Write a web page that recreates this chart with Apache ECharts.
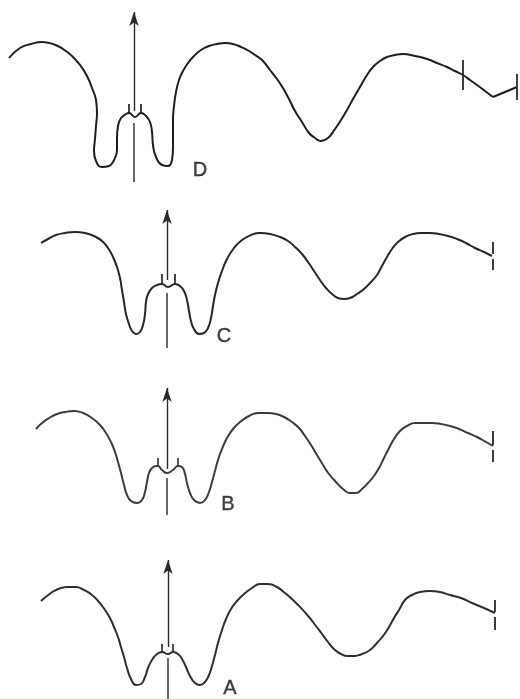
<!DOCTYPE html>
<html>
<head>
<meta charset="utf-8">
<script src="https://cdn.jsdelivr.net/npm/echarts@6/dist/echarts.min.js"></script>
<style>html,body{margin:0;padding:0;background:#fff}#c{width:520px;height:699px}</style>
</head>
<body>
<div id="c"></div>
<script>
// Traces, in picture units (x: 0..520, y: 0..699 downward)
const curveD = [[9,58],[20,48],[31,44],[42,42],[53,44],[63,49],[72,56],[80,65],[87,76],[92,88],[96,100],[97,113],[96,126],[95,139],[94,151],[96,161],[102,167],[109,166],[114,160],[117,150],[117,138],[118,126],[121,118],[126,114],[129,113],[135,117],[141,113],[146,116],[150,122],[152,132],[153,145],[156,157],[162,165],[168,166],[172,160],[173,148],[173,134],[173,120],[174,106],[176,92],[179,80],[183,71],[188,63],[194,56],[201,50],[209,46],[217,44],[225,43],[233,44],[241,47],[249,51],[255,55],[262,60],[270,70],[277,79],[283,88],[289,99],[295,111],[302,122],[309,133],[315,138],[321,141],[328,138],[335,129],[341,120],[347,110],[353,99],[360,87],[367,75],[373,67],[380,61],[387,57],[395,55],[403,54],[415,56],[427,59],[437,63],[447,67],[455,71],[463,75],[470,80],[477,85],[485,91],[493,97]];
const tailD = [[493,97],[517,87]];
const curveC = [[41,243],[48,239],[56,235],[65,233],[75,232],[85,233],[94,236],[102,241],[108,248],[113,257],[117,267],[120,278],[122,290],[124,302],[126,314],[129,324],[132,331],[136,334],[140,332],[143,325],[145,314],[146,302],[148,294],[152,288],[157,285],[162,284],[168,287],[175,284],[180,286],[184,291],[187,300],[189,311],[191,321],[194,329],[199,334],[204,333],[208,328],[211,318],[213,306],[215,295],[218,283],[222,271],[227,259],[234,248],[242,240],[251,235],[260,233],[270,234],[280,237],[288,241],[295,247],[302,254],[308,262],[314,271],[320,280],[326,288],[332,294],[338,298],[344,299],[350,298],[357,294],[364,289],[371,282],[377,275],[382,266],[387,257],[392,249],[398,242],[405,237],[413,234],[421,233],[430,233],[439,234],[448,236],[457,239],[466,243],[475,248],[484,252],[492,256]];
const curveB = [[36,429],[42,423],[49,418],[57,414],[65,412],[74,411],[83,413],[92,418],[100,425],[106,433],[111,442],[115,452],[118,462],[121,473],[124,485],[127,495],[131,501],[137,503],[142,500],[145,492],[147,482],[149,473],[152,468],[156,466],[158,466],[162,470],[167,473],[173,470],[178,466],[182,467],[185,474],[187,483],[190,493],[194,500],[200,503],[205,500],[209,492],[212,482],[215,471],[218,460],[222,449],[227,438],[233,429],[240,422],[249,416],[258,413],[267,413],[276,414],[284,417],[292,422],[299,428],[305,436],[311,445],[317,455],[323,465],[329,474],[336,482],[343,489],[350,493],[356,493],[362,489],[368,483],[374,476],[379,468],[384,458],[389,448],[394,439],[400,431],[407,426],[415,423],[423,423],[432,423],[441,424],[450,426],[459,429],[468,433],[477,437],[486,442],[493,446]];
const curveA = [[41,601],[47,596],[54,591],[61,588],[68,587],[76,587],[84,590],[92,595],[99,602],[105,610],[110,618],[114,627],[118,637],[121,647],[124,657],[127,668],[131,679],[136,685],[141,684],[145,677],[148,668],[152,660],[157,654],[162,652],[168,654],[173,652],[178,654],[182,659],[186,667],[190,676],[195,683],[200,685],[205,682],[209,675],[212,666],[215,655],[218,643],[222,630],[226,619],[231,609],[237,601],[244,594],[252,588],[260,584],[268,584],[277,587],[285,593],[293,600],[301,608],[309,617],[316,626],[322,634],[328,642],[334,649],[341,654],[348,656],[355,656],[362,654],[370,650],[377,643],[383,636],[389,627],[394,618],[399,610],[405,600],[412,595],[420,592],[430,591],[440,592],[450,595],[461,598],[472,603],[484,608],[495,613]];
// spikes: [x, baseY, tipY]
const spikes = [[129,113,104],[141,113,104],[162,284,274],[175,284,274],[158,466,458],[178,466,458],[162,652,644],[173,652,644]];
// end bars: [x, y1, y2]
const bars = [[463,60,90],[517,74,100],[493,242,254],[493,259,270],[493,431,445],[493,450,462],[495,600,612],[495,617,630]];
// arrows: [x, tipY, upperEndY, lowerStartY, lowerEndY]
const arrows = [[134,12,111,123,182],[167,210,280,293,348],[167,388,469,478,515],[168,560,647,658,699]];
// labels: [text, x, y]
const labels = [['D',200,170],['C',224,336],['B',228,504],['A',230,688]];

const curveColors = ['#1e1e1e','#262626','#3c3c3c','#2e2e2e'];
const chart = echarts.init(document.getElementById('c'), null, {renderer:'canvas'});
const series = [];
[curveD, curveC, curveB, curveA].forEach((d,i)=>{
  series.push({type:'line', data:d, smooth:0.5, symbol:'none', lineStyle:{color:curveColors[i], width:2}, silent:true});
});
series.push({type:'line', data:tailD, symbol:'none', lineStyle:{color:curveColors[0], width:2}, silent:true});
spikes.forEach(s=>{
  const ci = s[1] < 200 ? 0 : s[1] < 380 ? 1 : s[1] < 550 ? 2 : 3;
  series.push({type:'line', data:[[s[0],s[1]],[s[0],s[2]]], symbol:'none', lineStyle:{color:curveColors[ci], width:1.7}, silent:true});
});
bars.forEach(b=>{
  series.push({type:'line', data:[[b[0],b[1]],[b[0],b[2]]], symbol:'none', lineStyle:{color:'#2a2a2a', width:1.8}, silent:true});
});
arrows.forEach(a=>{
  series.push({type:'line', data:[[a[0],a[3]],[a[0],a[4]]], symbol:'none', lineStyle:{color:'#2a2a2a', width:1.4}, silent:true,
    markLine:{silent:true, animation:false, symbol:['none','arrow'], symbolSize:[7,14], label:{show:false},
      lineStyle:{color:'#2a2a2a', width:1.4, type:'solid'},
      data:[[{coord:[a[0],a[2]]},{coord:[a[0],a[1]]}]]}});
});
series.push({type:'scatter', symbolSize:0, silent:true,
  data:labels.map(l=>({value:[l[1],l[2]], name:l[0]})),
  label:{show:true, position:'inside', formatter:p=>p.name, fontFamily:'Liberation Sans', fontSize:20, color:'#111', textBorderColor:'#111', textBorderWidth:0.4}});

chart.setOption({
  animation:false,
  grid:{left:0,right:0,top:0,bottom:0},
  xAxis:{type:'value', min:0, max:520, show:false},
  yAxis:{type:'value', min:0, max:699, inverse:true, show:false},
  series:series
});
</script>
</body>
</html>
